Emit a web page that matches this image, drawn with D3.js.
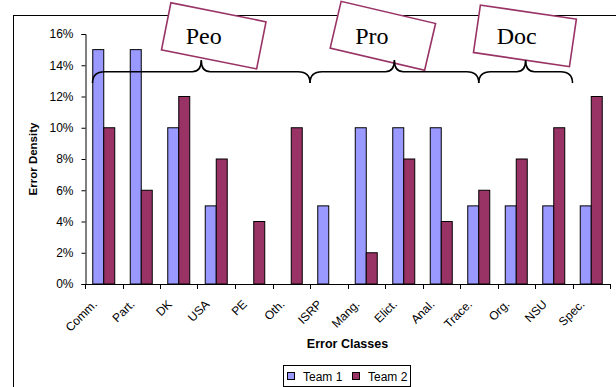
<!DOCTYPE html>
<html>
<head>
<meta charset="utf-8">
<script src="https://cdn.jsdelivr.net/npm/d3@7"></script>
<style>
  html, body { margin: 0; padding: 0; background: #fff; }
  svg { display: block; }
  text { font-family: "Liberation Sans", Arial, sans-serif; }
</style>
</head>
<body>
<svg id="chart" width="616" height="387"></svg>
<script>
// Error classes along the x axis
const categories = ["Comm.", "Part.", "DK", "USA", "PE", "Oth.", "ISRP", "Mang.", "Elict.", "Anal.", "Trace.", "Org.", "NSU", "Spec."];
// Error density per class (percent)
const team1 = [15, 15, 10, 5, 0, 0, 5, 10, 10, 10, 5, 5, 5, 5];
const team2 = [10, 6, 12, 8, 4, 10, 0, 2, 8, 4, 6, 8, 10, 12];
const seriesNames = ["Team 1", "Team 2"];
const seriesColors = ["#9999FF", "#993366"];
const yTicks = [0, 2, 4, 6, 8, 10, 12, 14, 16];

// Bracketed groups of classes (start/end in category units)
const groupLabels = ["Peo", "Pro", "Doc"];
const groupStart = [0.2, 6.0, 10.5];
const groupEnd = [6.0, 10.5, 13.0];

const svg = d3.select("#chart");
const margin = { left: 85, right: 6, top: 34, bottom: 103 };
const W = 616, H = 387;

const x0 = d3.scaleBand().domain(categories).range([margin.left, W - margin.right]).paddingInner(0).paddingOuter(0);
const x1 = d3.scaleBand().domain(seriesNames).range([0, x0.bandwidth()]).paddingInner(0).paddingOuter(0.705);
const y = d3.scaleLinear().domain([0, 16]).range([H - margin.bottom, margin.top]);
const xc = d3.scaleLinear().domain([0, categories.length]).range([margin.left, W - margin.right]);

// Outer chart frame
svg.append("rect")
  .attr("x", 13.5).attr("y", 15.5)
  .attr("width", 700).attr("height", 500)
  .attr("fill", "none").attr("stroke", "#000").attr("stroke-width", 1);

// Bars
const rows = categories.map((c, i) => ({ cat: c, vals: [team1[i], team2[i]] }));
const g = svg.append("g");
rows.forEach(r => {
  r.vals.forEach((v, s) => {
    if (v <= 0) return;
    g.append("rect")
      .attr("x", x0(r.cat) + x1(seriesNames[s]))
      .attr("y", y(v))
      .attr("width", x1.bandwidth())
      .attr("height", y(0) - y(v))
      .attr("fill", seriesColors[s])
      .attr("stroke", "#000")
      .attr("stroke-width", 1);
  });
});

// Y axis
const yAxis = d3.axisLeft(y).tickValues(yTicks).tickSize(4).tickPadding(8).tickFormat(d => d + "%");
const ya = svg.append("g").attr("transform", `translate(${margin.left + 0.5},0)`).call(yAxis);
ya.select(".domain").attr("stroke", "#000");
ya.selectAll(".tick line").attr("stroke", "#000");
ya.selectAll("text").attr("font-size", 12).attr("fill", "#000").style("font-family", "Liberation Sans, Arial, sans-serif");

// X axis: line plus ticks between categories
const xa = svg.append("g");
xa.append("line")
  .attr("x1", margin.left).attr("x2", W - margin.right)
  .attr("y1", y(0) + 0.5).attr("y2", y(0) + 0.5)
  .attr("stroke", "#000");
d3.range(categories.length + 1).forEach(i => {
  xa.append("line")
    .attr("x1", Math.round(xc(i)) + 0.5).attr("x2", Math.round(xc(i)) + 0.5)
    .attr("y1", y(0)).attr("y2", y(0) + 5)
    .attr("stroke", "#000");
});
categories.forEach(c => {
  const cx = x0(c) + x0.bandwidth() / 2 - 6;
  const cy = y(0) + 21;
  xa.append("text")
    .attr("transform", `translate(${cx},${cy}) rotate(-45)`)
    .attr("text-anchor", "end")
    .attr("font-size", 12)
    .attr("fill", "#000")
    .text(c);
});

// Axis titles
svg.append("text")
  .attr("transform", `translate(${37},${(y(0) + y(16)) / 2}) rotate(-90)`)
  .attr("text-anchor", "middle")
  .attr("font-size", 11.5).attr("font-weight", "bold")
  .text("Error Density");
svg.append("text")
  .attr("x", (margin.left + W - margin.right) / 2)
  .attr("y", 348)
  .attr("text-anchor", "middle")
  .attr("font-size", 12.5).attr("font-weight", "bold")
  .text("Error Classes");

// Legend
const lg = svg.append("g");
lg.append("rect").attr("x", 283.5).attr("y", 365.5).attr("width", 127).attr("height", 21)
  .attr("fill", "#fff").attr("stroke", "#000");
const legendX = [287.5, 352.5];
seriesNames.forEach((n, s) => {
  lg.append("rect").attr("x", legendX[s]).attr("y", 372.5).attr("width", 7).attr("height", 7)
    .attr("fill", seriesColors[s]).attr("stroke", "#000");
  lg.append("text").attr("x", legendX[s] + 15.5).attr("y", 380.5)
    .attr("font-size", 12).attr("fill", "#000").text(n);
});

// Group label boxes (rotated frames, upright text)
const boxAngle = [11.3, 13.2, 8.3];
const boxDx = [12.5, -11.5, -0.7];
const textDx = [2.5, -22.5, -9];
const ann = svg.append("g");
groupLabels.forEach((lab, i) => {
  const tip = (xc(groupStart[i]) + xc(groupEnd[i])) / 2;
  const cx = tip + boxDx[i], cy = 35.8;
  ann.append("rect")
    .attr("x", -48.5).attr("y", -24).attr("width", 97).attr("height", 48)
    .attr("transform", `translate(${cx},${cy}) rotate(${boxAngle[i]})`)
    .attr("fill", "#fff").attr("stroke", "#993366").attr("stroke-width", 1.6);
  ann.append("text")
    .attr("x", tip + textDx[i]).attr("y", 44)
    .attr("text-anchor", "middle")
    .attr("font-size", 24)
    .style("font-family", "Liberation Serif, 'Times New Roman', serif")
    .attr("fill", "#000")
    .text(lab);
});

// Curly braces under the boxes
const yEnd = 83, yH = 71.7, yTip = 60;
groupLabels.forEach((lab, i) => {
  const a = xc(groupStart[i]), b = xc(groupEnd[i]);
  const m = (a + b) / 2;
  const r = 12;
  const p = `M${a},${yEnd} Q${a},${yH} ${a + r},${yH} L${m - 9},${yH} Q${m},${yH} ${m},${yTip} Q${m},${yH} ${m + 9},${yH} L${b - r},${yH} Q${b},${yH} ${b},${yEnd}`;
  ann.append("path").attr("d", p).attr("fill", "none").attr("stroke", "#000").attr("stroke-width", 1.6);
});
</script>
</body>
</html>
